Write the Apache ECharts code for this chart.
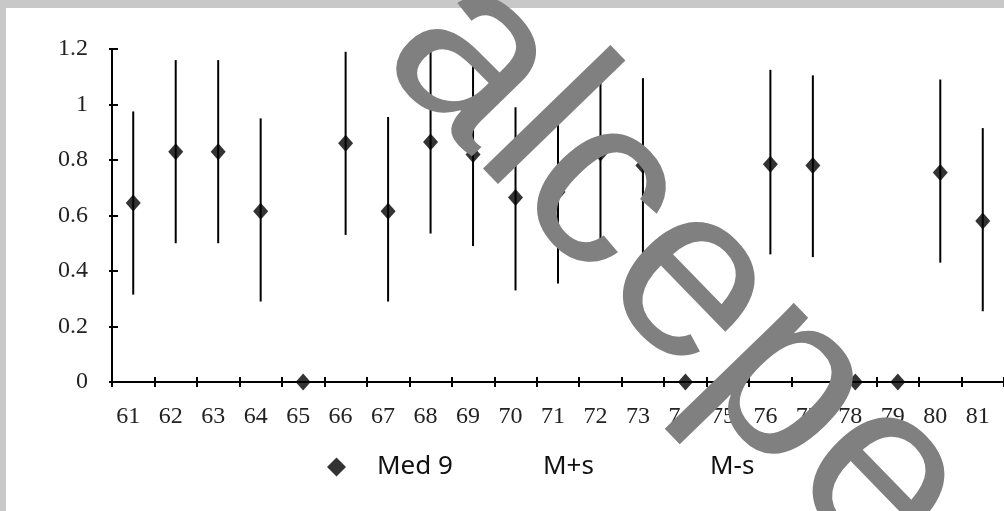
<!DOCTYPE html>
<html>
<head>
<meta charset="utf-8">
<script src="https://cdn.jsdelivr.net/npm/echarts@6/dist/echarts.min.js"></script>
<style>
html,body{margin:0;padding:0;background:#c8c8c8;}
#c{width:1004px;height:511px;}
</style>
</head>
<body>
<div id="c"></div>
<script>
var categories = ['61','62','63','64','65','66','67','68','69','70','71','72','73','74','75','76','77','78','79','80','81'];
var med9 = [0.645,0.83,0.83,0.615,0,0.86,0.615,0.865,0.82,0.665,0.685,0.825,0.78,0,0,0.785,0.78,0,0,0.755,0.58];
var mPlusS = [0.975,1.16,1.16,0.95,null,1.19,0.955,1.195,1.155,0.99,1.015,1.155,1.095,null,null,1.125,1.105,null,null,1.09,0.915];
var mMinusS = [0.315,0.50,0.50,0.29,null,0.53,0.29,0.535,0.49,0.33,0.355,0.49,0.44,null,null,0.46,0.45,null,null,0.43,0.255];
var yTicks = [0,0.2,0.4,0.6,0.8,1,1.2];

var barData = categories.map(function(c,i){ return [i, mMinusS[i], mPlusS[i]]; }).filter(function(d){ return d[1]!=null && d[2]!=null; });

var chart = echarts.init(document.getElementById('c'), null, {renderer:'canvas'});
var serif = '"Liberation Serif", "Times New Roman", serif';
var sans = '"Noto Sans", "Open Sans", sans-serif';

chart.setOption({
  backgroundColor:'#c8c8c8',
  animation:false,
  grid:{left:112, right:-9, top:49, bottom:129, containLabel:false},
  xAxis:[{
    type:'category', data:categories, position:'bottom', boundaryGap:true,
    axisLine:{show:true, lineStyle:{color:'#000', width:2}},
    axisTick:{show:true, inside:false, length:5, lineStyle:{color:'#000', width:2}},
    axisLabel:{color:'#222', fontFamily:serif, fontSize:24, margin:23, interval:0, padding:[0,10,0,0]},
    splitLine:{show:false}
  },{
    type:'category', data:categories, position:'bottom', boundaryGap:true,
    axisLine:{show:false},
    axisTick:{show:true, inside:true, length:5, lineStyle:{color:'#000', width:2}},
    axisLabel:{show:false}, splitLine:{show:false}
  }],
  yAxis:[{
    type:'value', min:0, max:1.2, interval:0.2, position:'left',
    axisLine:{show:true, lineStyle:{color:'#000', width:2}},
    axisTick:{show:true, inside:false, length:3, lineStyle:{color:'#000', width:2}},
    axisLabel:{color:'#222', fontFamily:serif, fontSize:24, margin:24,
      formatter:function(v){ var r=yTicks.filter(function(t){return Math.abs(t-v)<1e-9;}); return r.length? String(r[0]) : ''; }},
    splitLine:{show:false}
  },{
    type:'value', min:0, max:1.2, interval:0.2, position:'left',
    axisLine:{show:false},
    axisTick:{show:true, inside:true, length:6, lineStyle:{color:'#000', width:2}},
    axisLabel:{show:false}, splitLine:{show:false}
  }],
  legend:[{
    data:['Med 9'], left:327, top:454, itemWidth:19, itemHeight:19, padding:0,
    textStyle:{fontFamily:sans, fontSize:26, color:'#111', padding:[0,0,0,26]}
  },{
    data:['M+s'], left:528, top:454, itemWidth:10, itemHeight:10, padding:0,
    textStyle:{fontFamily:sans, fontSize:26, color:'#111'}
  },{
    data:['M-s'], left:695, top:454, itemWidth:10, itemHeight:10, padding:0,
    textStyle:{fontFamily:sans, fontSize:26, color:'#111'}
  }],
  graphic:[
    {type:'rect', shape:{x:6,y:8,width:1010,height:520}, style:{fill:'#fff'}, z:-100, silent:true},
    {type:'text', x:425, y:12, rotation:-0.8, z:100, silent:true,
     style:{text:'alcepe', font:'245px "Liberation Sans", Arial, sans-serif', fill:'#808080', verticalAlign:'middle', align:'left'}}
  ],
  series:[{
    name:'M+s', type:'line', data:mPlusS, symbol:'none', lineStyle:{opacity:0, width:0}, itemStyle:{opacity:0}, silent:true
  },{
    name:'M-s', type:'line', data:mMinusS, symbol:'none', lineStyle:{opacity:0, width:0}, itemStyle:{opacity:0}, silent:true
  },{
    name:'range', type:'custom', data:barData, z:3,
    renderItem:function(params, api){
      var top = api.coord([api.value(0), api.value(2)]);
      var bot = api.coord([api.value(0), api.value(1)]);
      return {type:'line', shape:{x1:top[0], y1:top[1], x2:bot[0], y2:bot[1]}, style:{stroke:'#000', lineWidth:2}};
    },
    encode:{x:0, y:[1,2]}
  },{
    name:'Med 9', type:'scatter', data:med9, symbol:'diamond', symbolSize:[15,17], z:5,
    itemStyle:{color:'#000'}
  }]
});
</script>
</body>
</html>
